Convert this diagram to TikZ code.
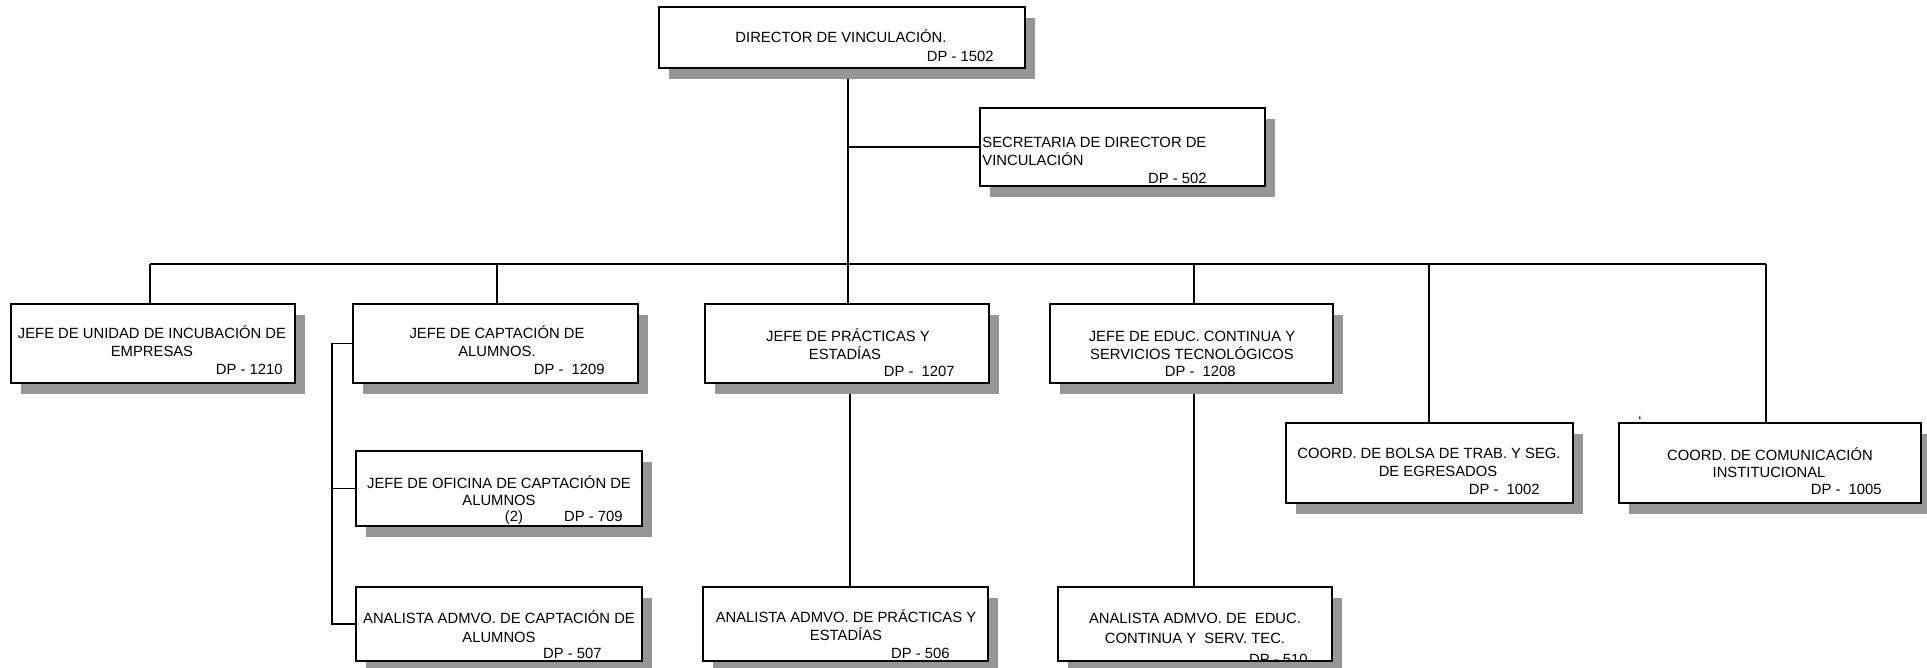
\documentclass[tikz,border=0pt]{standalone}
\usepackage{fontspec}
\setmainfont{Liberation Sans}
\usetikzlibrary{fit,shadows,backgrounds}
\definecolor{shade}{RGB}{150,150,150}
\begin{document}
\begin{tikzpicture}[x=0.5pt,y=-0.5pt,
  box/.style={draw, line width=0.75pt, fill=white, inner sep=0pt,
    drop shadow={shadow xshift=5pt, shadow yshift=-5.5pt, opacity=1, fill=shade}},
  txt/.style={inner sep=0pt, anchor=base, font=\fontsize{7.4}{9}\selectfont},
  dp/.style={txt, anchor=base east},
  link/.style={line width=0.75pt}]
\useasboundingbox (0,0) rectangle (1927,668);

% boxes
\node[box, fit={(659,7) (1025,68)}] (dir) {};
\node[box, fit={(980,108) (1265,186)}] (sec) {};
\node[box, fit={(11,304) (295,383)}] (b1) {};
\node[box, fit={(353,304) (638,383)}] (b2) {};
\node[box, fit={(705,304) (989,383)}] (b3) {};
\node[box, fit={(1050,304) (1333,383)}] (b4) {};
\node[box, fit={(1286,423) (1573,503)}] (b5) {};
\node[box, fit={(1619,423) (1921,503)}] (b6) {};
\node[box, fit={(356,451) (642,526)}] (b7) {};
\node[box, fit={(356,587) (642,661)}] (b8) {};
\node[box, fit={(703,587) (988,661)}] (b9) {};
\node[box, fit={(1058,587) (1332,661)}] (b10) {};

% texts
\node[txt] (dirA) at (841,43) {DIRECTOR DE VINCULACIÓN.};
\node[dp] (dirB) at (994,62) {DP - 1502};

\node[txt, anchor=base west] (secA) at (982,148) {SECRETARIA DE DIRECTOR DE};
\node[txt, anchor=base west] (secB) at (982,166) {VINCULACIÓN};
\node[dp] (secC) at (1207,184) {DP - 502};

\node[txt] (b1A) at (152,338) {JEFE DE UNIDAD DE INCUBACIÓN DE};
\node[txt] (b1B) at (152,356) {EMPRESAS};
\node[dp] (b1C) at (283,374) {DP - 1210};

\node[txt] (b2A) at (497,338) {JEFE DE CAPTACIÓN DE};
\node[txt] (b2B) at (497,356) {ALUMNOS.};
\node[dp] (b2C) at (605,374) {DP -\ \ 1209};

\node[txt] (b3A) at (848,341) {JEFE DE PRÁCTICAS Y};
\node[txt] (b3B) at (845,359) {ESTADÍAS};
\node[dp] (b3C) at (955,376) {DP -\ \ 1207};

\node[txt] (b4A) at (1192,341) {JEFE DE EDUC. CONTINUA Y};
\node[txt] (b4B) at (1192,359) {SERVICIOS TECNOLÓGICOS};
\node[dp] (b4C) at (1236,376) {DP -\ \ 1208};

\node[txt] (b5A) at (1429,458) {COORD. DE BOLSA DE TRAB. Y SEG.};
\node[txt] (b5B) at (1438,476) {DE EGRESADOS};
\node[dp] (b5C) at (1540,494) {DP -\ \ 1002};

\node[txt] (b6A) at (1770,460) {COORD. DE COMUNICACIÓN};
\node[txt] (b6B) at (1769,477) {INSTITUCIONAL};
\node[dp] (b6C) at (1882,494) {DP -\ \ 1005};
\node[txt] (tick) at (1640,426) {`};

\node[txt] (b7A) at (499,488) {JEFE DE OFICINA DE CAPTACIÓN DE};
\node[txt] (b7B) at (499,505) {ALUMNOS};
\node[txt] (b7C) at (514,521) {(2)};
\node[dp] (b7D) at (623,521) {DP - 709};

\node[txt] (b8A) at (499,623) {ANALISTA ADMVO. DE CAPTACIÓN DE};
\node[txt] (b8B) at (499,642) {ALUMNOS};
\node[dp] (b8C) at (602,658) {DP - 507};

\node[txt] (b9A) at (846,622) {ANALISTA ADMVO. DE PRÁCTICAS Y};
\node[txt] (b9B) at (846,640) {ESTADÍAS};
\node[dp] (b9C) at (950,658) {DP - 506};

\node[txt] (b10A) at (1195,623) {ANALISTA ADMVO. DE\ \ EDUC.};
\node[txt] (b10B) at (1195,643) {CONTINUA Y\ \ SERV. TEC.};
\begin{scope}
  \clip (b10.south west) rectangle (b10.north east);
  \node[dp] (b10C) at (1308,664) {DP - 510};
\end{scope}

% connectors
\coordinate (trunk) at (848,264);
\coordinate (side) at (332,344);
\coordinate (x1) at (150,264);
\coordinate (x2) at (497,264);
\coordinate (x4) at (1194,264);
\coordinate (x5) at (1429,264);
\coordinate (x6) at (1766,264);
\coordinate (x9) at (850,264);
\begin{scope}[on background layer]
  \draw[link] (trunk |- dir.south) -- (trunk);
  \draw[link] (trunk |- sec.west) -- (sec.west);
  \draw[link] (x1) -- (x6);
  \draw[link] (x1 |- b1.north) -- (x1);
  \draw[link] (x2 |- b2.north) -- (x2);
  \draw[link] (trunk |- b3.north) -- (trunk);
  \draw[link] (x4 |- b4.north) -- (x4);
  \draw[link] (x5 |- b5.north) -- (x5);
  \draw[link] (x6 |- b6.north) -- (x6);
  \draw[link] (b2.west) -| (side |- b8.west) -- (b8.west);
  \draw[link] (side |- b7.west) -- (b7.west);
  \draw[link] (x9 |- b3.south) -- (x9 |- b9.north);
  \draw[link] (x4 |- b4.south) -- (x4 |- b10.north);
\end{scope}
\end{tikzpicture}
\end{document}
